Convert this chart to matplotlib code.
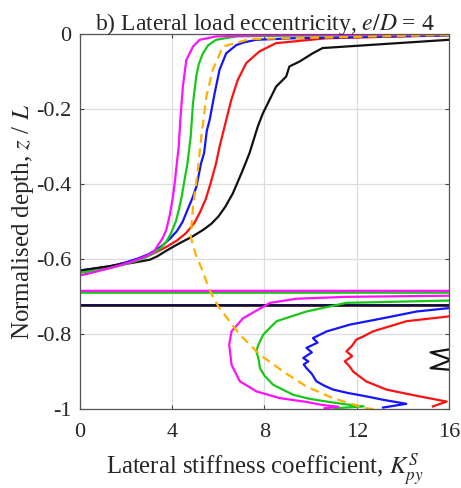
import numpy as np
import matplotlib
matplotlib.use("Agg")
import matplotlib.pyplot as plt

plt.rcParams['font.family'] = ['Liberation Serif', 'DejaVu Serif']
plt.rcParams['mathtext.fontset'] = 'stix'
plt.rcParams['axes.unicode_minus'] = False

# asymptote value used where stiffness passes through +/- infinity
INF = 1000.0

# ---- data (x = K_py^S, z = z/L) ----
mag_x = [16, 8, 5.9, 5.19, 4.9, 4.61, 4.46, 4.35, 4.28, 4.2, 4.12, 4.03, 3.9, 3.74, 3.57, 3.35, 3.2, 2.85, 2.4, 1.9, 1.2, 0.5, 0, -2,
         -INF, INF, 20, 15.9, 11.55, 9.39, 8.24, 7.07, 6.57, 6.47, 6.57, 6.93, 7.65, 8.67, 9.82, 10.5, 11.2, 10.6]
mag_z = [-0.001, -0.003, -0.006, -0.015, -0.033, -0.069, -0.14, -0.229, -0.3, -0.344, -0.39, -0.433, -0.48, -0.522, -0.545, -0.565, -0.58, -0.592, -0.603, -0.613, -0.625, -0.636, -0.643, -0.66,
         -0.684, -0.684, -0.695, -0.697, -0.700, -0.705, -0.716, -0.757, -0.792, -0.827, -0.881, -0.925, -0.952, -0.97, -0.98, -0.988, -0.993, -0.997]

grn_x = [16, 9, 6.78, 5.9, 5.55, 5.33, 5.15, 5.04, 4.9, 4.8, 4.66, 4.5, 4.4, 4.28, 4.15, 3.95, 3.75, 3.5, 3.2, 2.85, 2.4, 1.8, 1.1, 0, -2,
         -INF, INF, 20, 15.9, 11.55, 9.82, 8.52, 7.94, 7.72, 7.65, 7.75, 7.8, 8.0, 8.37, 9.24, 9.97, 10.8, 11.6, 12.3, 11.0]
grn_z = [-0.002, -0.004, -0.006, -0.015, -0.03, -0.051, -0.08, -0.113, -0.184, -0.273, -0.344, -0.4, -0.436, -0.47, -0.5, -0.53, -0.552, -0.57, -0.583, -0.595, -0.605, -0.616, -0.626, -0.636, -0.65,
         -0.689, -0.689, -0.708, -0.71, -0.716, -0.739, -0.765, -0.801, -0.83, -0.845, -0.868, -0.89, -0.91, -0.934, -0.961, -0.972, -0.98, -0.987, -0.992, -0.997]

blu_x = [16, 9.22, 7.64, 7.1, 6.78, 6.34, 6.05, 5.84, 5.62, 5.5, 5.38, 5.25, 5.05, 4.88, 4.65, 4.45, 4.2, 3.9, 3.6, 3.3, 2.95, 2.5, 2.0, 1.3, 0, -2,
         -INF, INF, 20, 16, 14.6, 13.14, 11.7, 10.7, 10.1, 10.3, 9.82, 10.05, 9.68, 9.9, 9.7, 9.82, 10.05, 10.25, 10.6, 10.97, 11.6, 12.4, 13.2, 14.15, 13.14]
blu_z = [-0.003, -0.011, -0.015, -0.022, -0.029, -0.051, -0.095, -0.157, -0.229, -0.257, -0.317, -0.344, -0.406, -0.436, -0.47, -0.5, -0.525, -0.545, -0.562, -0.575, -0.587, -0.598, -0.608, -0.619, -0.63, -0.645,
         -0.722, -0.722, -0.729, -0.73, -0.739, -0.757, -0.774, -0.792, -0.81, -0.822, -0.836, -0.848, -0.863, -0.872, -0.88, -0.89, -0.905, -0.925, -0.937, -0.947, -0.956, -0.965, -0.975, -0.985, -0.995]

red_x = [16, 10.67, 8.5, 7.78, 7.21, 6.84, 6.56, 6.27, 6.05, 5.9, 5.65, 5.45, 5.2, 4.95, 4.6, 4.2, 3.8, 3.4, 3.0, 2.5, 1.9, 1.2, 0, -2,
         -INF, INF, 20, 16, 14.15, 12.7, 12.3, 11.98, 11.8, 11.55, 11.8, 11.48, 11.7, 11.84, 12.4, 13.28, 14.7, 15.9, 15.3]
red_z = [-0.003, -0.011, -0.024, -0.046, -0.077, -0.122, -0.175, -0.246, -0.3, -0.344, -0.4, -0.44, -0.475, -0.504, -0.53, -0.55, -0.565, -0.578, -0.59, -0.6, -0.61, -0.62, -0.63, -0.645,
         -0.723, -0.723, -0.75, -0.752, -0.765, -0.792, -0.805, -0.814, -0.83, -0.845, -0.858, -0.872, -0.886, -0.899, -0.925, -0.947, -0.965, -0.979, -0.992]

blk_x = [16, 10.52, 10.09, 9.52, 9.08, 8.94, 8.5, 8.22, 7.93, 7.71, 7.35, 7.06, 6.63, 6.3, 6.0, 5.7, 5.33, 4.85, 4.32, 3.8, 3.35, 3.03, 2.59, 2.0, 1.29, 0, -2,
         -INF, INF, 20, 15.2, 16.1, 15.2, 20]
blk_z = [-0.015, -0.037, -0.051, -0.073, -0.086, -0.113, -0.14, -0.175, -0.211, -0.246, -0.317, -0.362, -0.424, -0.46, -0.486, -0.505, -0.522, -0.54, -0.557, -0.575, -0.592, -0.601, -0.606, -0.612, -0.618, -0.63, -0.645,
         -0.723, -0.723, -0.80, -0.848, -0.868, -0.89, -0.915]

org_x = [16, 7.37, 6.2, 5.76, 5.48, 5.26, 5.11, 4.9, 4.8, 5.0, 5.3, 5.63, 5.99, 6.93, 7.8, 8.81, 9.82, 10.97, 12.4, 12.9]
org_z = [-0.002, -0.013, -0.033, -0.095, -0.166, -0.273, -0.362, -0.46, -0.54, -0.584, -0.628, -0.684, -0.725, -0.801, -0.854, -0.899, -0.939, -0.97, -0.997, -1.0]

x_ticks = [0, 4, 8, 12, 16]
y_ticks = [-1, -0.8, -0.6, -0.4, -0.2, 0]
y_tick_labels = ['-1', '-0.8', '-0.6', '-0.4', '-0.2', '0']

# ---- figure ----
fig = plt.figure(figsize=(4.61, 4.88), dpi=100)
ax = fig.add_axes([0.1735, 0.161, 0.8005, 0.769])

lw = 1.6
ax.plot(red_x, red_z, color='#ff1010', lw=lw)
ax.plot(blu_x, blu_z, color='#1414ff', lw=lw)
ax.plot(blk_x, blk_z, color='#111111', lw=lw)
ax.plot(grn_x, grn_z, color='#18c818', lw=lw)
ax.plot(mag_x, mag_z, color='#ff10ff', lw=lw)
ax.plot(org_x, org_z, color='#ffb000', lw=lw, ls=(0, (4, 2.5)))

ax.set_xlim(0, 16)
ax.set_ylim(-1, 0)
ax.set_xticks(x_ticks)
ax.set_xticklabels([str(t) for t in x_ticks])
ax.set_yticks(y_ticks)
ax.set_yticklabels(y_tick_labels)
ax.grid(True, color='#dcdcdc', lw=0.9)
ax.set_axisbelow(True)
ax.tick_params(direction='in', length=3, width=0.8, colors='#444444', labelcolor='#262626',
               labelsize=16, top=True, right=True, pad=6)
ax.tick_params(axis='x', pad=10)
for s in ax.spines.values():
    s.set_color('#555555')
    s.set_linewidth(0.9)

ax.set_title('b) Lateral load eccentricity, $e/D$ = 4', fontsize=17, color='#262626', pad=3)
ax.set_xlabel('Lateral stiffness coefficient, $K_{py}^{S}$', fontsize=17.8, color='#262626', labelpad=6.5)
ax.set_ylabel('Normalised depth, $z$ / $L$', fontsize=18, color='#262626', labelpad=0)

fig.savefig('out.png', dpi=100)
